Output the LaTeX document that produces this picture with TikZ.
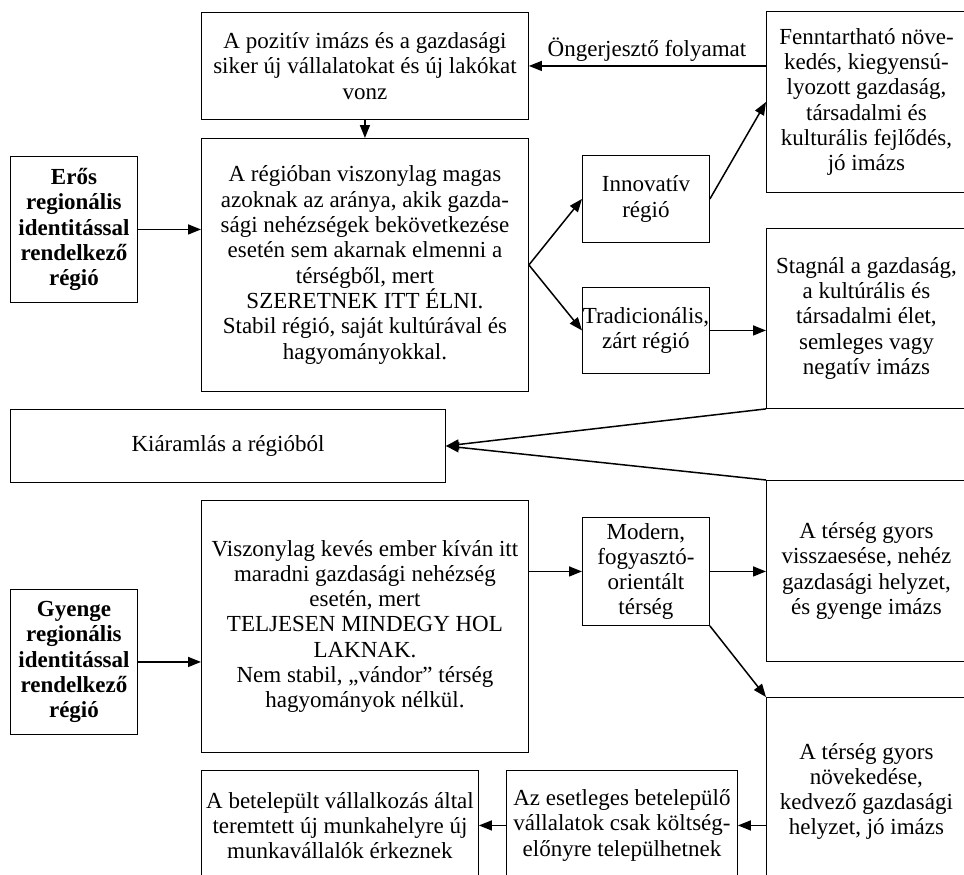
\documentclass[tikz,border=0pt]{standalone}
\usepackage{fontspec}
\setmainfont{Liberation Serif}
\usetikzlibrary{arrows.meta}
\begin{document}
\begin{tikzpicture}[x=1pt,y=-1pt,
  box/.style={draw, line width=0.9pt, anchor=north west, align=center, inner sep=0pt,
    font=\fontsize{23}{25.3}\selectfont},
  arr/.style={line width=1.5pt, -{Triangle[length=13pt,width=10pt]}}]
\useasboundingbox (0,0) rectangle (964,875);
\clip (0,0) rectangle (964,875);
% top row
\node[box, minimum width=327pt, minimum height=107pt] (top) at (201,12)
  {A pozitív imázs és a gazdasági\\siker új vállalatokat és új lakókat\\vonz};
\node[box, minimum width=200pt, minimum height=181pt] (fenn) at (766,11)
  {Fenntartható növe-\\kedés, kiegyensú-\\lyozott gazdaság,\\társadalmi és\\kulturális fejlődés,\\jó imázs};
\node[font=\fontsize{23}{25.3}\selectfont, inner sep=0pt] (lbl) at (647,50) {Öngerjesztő folyamat};
% strong region
\node[box, minimum width=127pt, minimum height=146pt, font=\fontsize{23}{25.3}\selectfont\bfseries] (eros) at (10,156)
  {Erős\\regionális\\identitással\\rendelkező\\régió};
\node[box, minimum width=327pt, minimum height=253pt] (main1) at (201,138)
  {A régióban viszonylag magas\\azoknak az aránya, akik gazda-\\sági nehézségek bekövetkezése\\esetén sem akarnak elmenni a\\térségből, mert\\SZERETNEK ITT ÉLNI.\\Stabil régió, saját kultúrával és\\hagyományokkal.};
\node[box, minimum width=127pt, minimum height=87pt] (innov) at (582,155)
  {Innovatív\\régió};
\node[box, minimum width=127pt, minimum height=86pt] (trad) at (582,287)
  {Tradicionális,\\zárt régió};
\node[box, minimum width=200pt, minimum height=180pt] (stag) at (766,228)
  {Stagnál a gazdaság,\\a kultúrális és\\társadalmi élet,\\semleges vagy\\negatív imázs};
% outflow
\node[box, minimum width=435pt, minimum height=73pt] (kia) at (10,409)
  {Kiáramlás a régióból};
% weak region
\node[box, minimum width=127pt, minimum height=145pt, font=\fontsize{23}{25.3}\selectfont\bfseries] (gyenge) at (10,589)
  {Gyenge\\regionális\\identitással\\rendelkező\\régió};
\node[box, minimum width=327pt, minimum height=252pt] (main2) at (201,500)
  {Viszonylag kevés ember kíván itt\\maradni gazdasági nehézség\\esetén, mert\\TELJESEN MINDEGY HOL\\LAKNAK.\\Nem stabil, „vándor” térség\\hagyományok nélkül.};
\node[box, minimum width=127pt, minimum height=108pt] (modern) at (582,517)
  {Modern,\\fogyasztó-\\orientált\\térség};
\node[box, minimum width=200pt, minimum height=181pt] (viss) at (766,480)
  {A térség gyors\\visszaesése, nehéz\\gazdasági helyzet,\\és gyenge imázs};
\node[box, minimum width=200pt, minimum height=188pt] (grow) at (766,697)
  {A térség gyors\\növekedése,\\kedvező gazdasági\\helyzet, jó imázs};
\node[box, minimum width=231pt, minimum height=110pt] (esetl) at (506,770)
  {Az esetleges betelepülő\\vállalatok csak költség-\\előnyre települhetnek};
\node[box, minimum width=277pt, minimum height=110pt] (bet) at (201,770)
  {A betelepült vállalkozás által\\teremtett új munkahelyre új\\munkavállalók érkeznek};
% connectors
\draw[arr] (top.south) -- (main1.north);
\draw[arr] (fenn.west |- top.east) -- (top.east);
\draw[arr] (eros.east) -- (main1.west |- eros.east);
\draw[arr] (main1.east) -- (innov.west);
\draw[arr] (main1.east) -- (trad.west);
\draw[arr] (innov.east) -- (fenn.west);
\draw[arr] (trad.east) -- (stag.west |- trad.east);
\draw[arr] (stag.south west) -- (kia.east);
\draw[arr] (viss.north west) -- (kia.east);
\draw[arr] (gyenge.east) -- (main2.west |- gyenge.east);
\draw[arr] (main2.east |- modern.west) -- (modern.west);
\draw[arr] (modern.east) -- (viss.west |- modern.east);
\draw[arr] (modern.south east) -- (grow.north west);
\draw[arr] (grow.west |- esetl.east) -- (esetl.east);
\draw[arr] (esetl.west) -- (bet.east);
\end{tikzpicture}
\end{document}
